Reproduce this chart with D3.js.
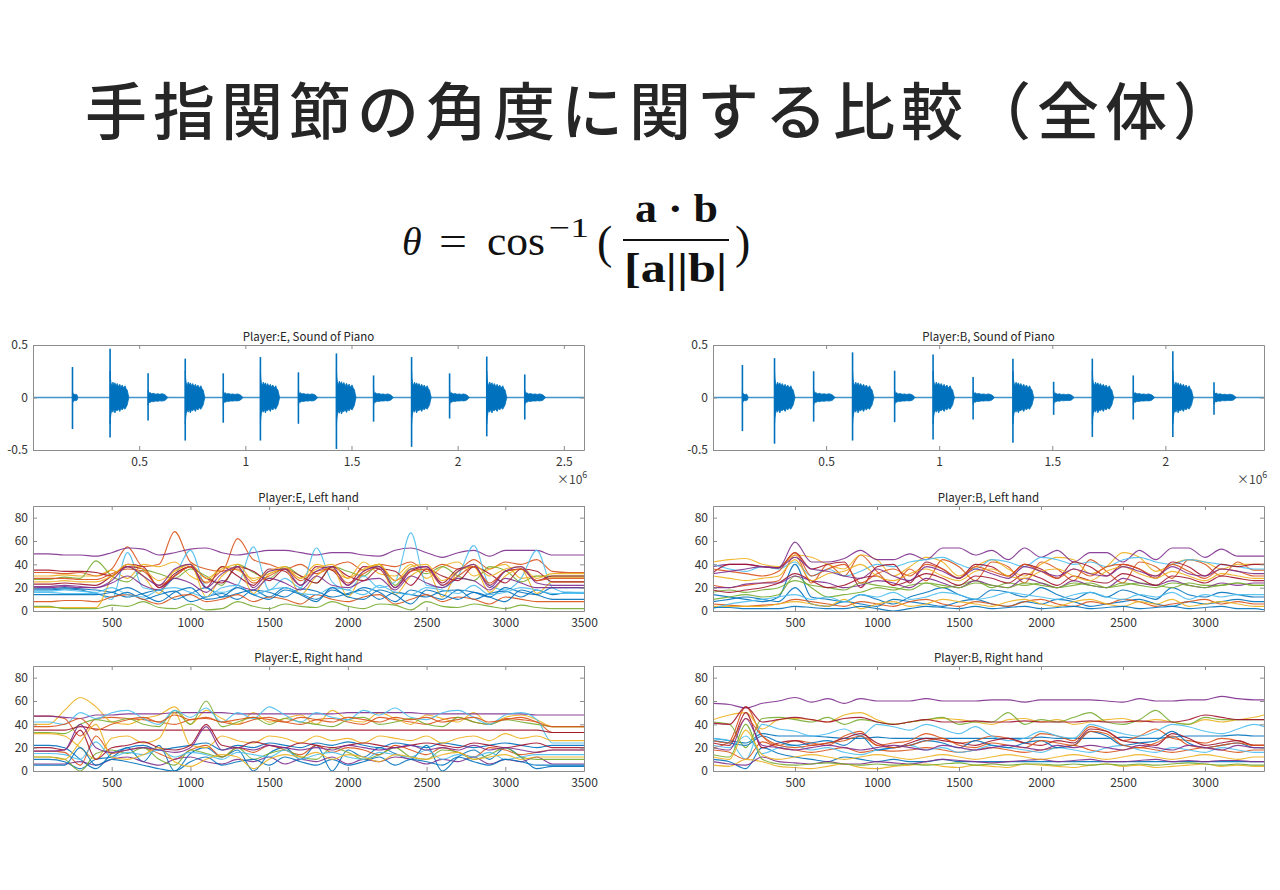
<!DOCTYPE html>
<html>
<head>
<meta charset="utf-8">
<script src="https://cdn.jsdelivr.net/npm/d3@7"></script>
<style>
body { margin: 0; background: #fff; }
svg { display: block; }
</style>
</head>
<body>
<svg id="chart" width="1280" height="890"></svg>
<script>
// ---- data ----
var pageTitle = "手指関節の角度に関する比較（全体）";
var panelTitles = [
	["Player:E, Sound of Piano", "Player:B, Sound of Piano"],
	["Player:E, Left hand", "Player:B, Left hand"],
	["Player:E, Right hand", "Player:B, Right hand"]
];
var lineColors = ["#0072BD", "#D95319", "#EDB120", "#7E2F8E", "#77AC30", "#4DBEEE", "#A2142F"];

// sound: x in units of 1e6 samples
var waveDomainE = [0, 2.595], waveDomainB = [0, 2.436];
var waveTicksE = [0.5, 1, 1.5, 2, 2.5], waveTicksB = [0.5, 1, 1.5, 2];
var waveYTicks = [-0.5, 0, 0.5];
// onset, spike top, spike bottom, body amplitude, body length
var notesE = [
	[0.186, 0.29, -0.30, 0.035, 0.025],
	[0.363, 0.465, -0.38, 0.14, 0.088],
	[0.542, 0.23, -0.22, 0.04, 0.092],
	[0.717, 0.37, -0.41, 0.14, 0.092],
	[0.896, 0.23, -0.24, 0.038, 0.092],
	[1.071, 0.385, -0.41, 0.14, 0.09],
	[1.250, 0.24, -0.25, 0.038, 0.09],
	[1.429, 0.42, -0.49, 0.15, 0.092],
	[1.604, 0.21, -0.23, 0.038, 0.092],
	[1.783, 0.385, -0.47, 0.14, 0.092],
	[1.962, 0.23, -0.20, 0.038, 0.092],
	[2.137, 0.39, -0.37, 0.14, 0.094],
	[2.316, 0.22, -0.21, 0.038, 0.098]
];
var notesB = [
	[0.130, 0.31, -0.32, 0.035, 0.025],
	[0.272, 0.375, -0.44, 0.14, 0.09],
	[0.445, 0.25, -0.23, 0.04, 0.094],
	[0.617, 0.43, -0.41, 0.14, 0.094],
	[0.803, 0.255, -0.235, 0.038, 0.09],
	[0.973, 0.41, -0.40, 0.14, 0.094],
	[1.150, 0.195, -0.21, 0.038, 0.094],
	[1.326, 0.37, -0.43, 0.14, 0.092],
	[1.506, 0.15, -0.165, 0.035, 0.09],
	[1.677, 0.37, -0.375, 0.14, 0.094],
	[1.858, 0.21, -0.21, 0.038, 0.094],
	[2.033, 0.44, -0.375, 0.14, 0.09],
	[2.215, 0.145, -0.165, 0.035, 0.098]
];
var bigBody = [[0,1.8,-1.8],[0.02,1.3,-1.4],[0.05,1.0,-1.1],[0.1,0.8,-0.85],[0.15,1.05,-1.0],[0.2,0.85,-0.8],
	[0.26,1.0,-1.05],[0.32,0.8,-0.85],[0.38,0.95,-0.9],[0.45,0.75,-0.8],[0.52,0.9,-0.95],[0.58,0.7,-0.75],
	[0.65,0.85,-0.85],[0.72,0.65,-0.7],[0.8,0.8,-0.8],[0.86,0.6,-0.65],[0.92,0.5,-0.5],[0.96,0.25,-0.25],[1,0.03,-0.03]];
var smallBody = [[0,1.8,-1.8],[0.04,1.0,-1.1],[0.1,1.2,-1.2],[0.18,0.9,-0.95],[0.28,1.0,-1.0],[0.38,0.8,-0.85],
	[0.5,0.9,-0.9],[0.6,0.75,-0.8],[0.7,0.9,-0.85],[0.8,0.8,-0.8],[0.88,0.6,-0.65],[0.95,0.3,-0.3],[1,0.03,-0.03]];

// joint angles: frame number vs degrees, values read every 100 frames
var framesE = d3.range(0, 3501, 100);
var framesB = d3.range(0, 3301, 100).concat([3360]);
var angleTicksE = [500, 1000, 1500, 2000, 2500, 3000, 3500];
var angleTicksB = [500, 1000, 1500, 2000, 2500, 3000];
var angleYTicks = [0, 20, 40, 60, 80];

var leftE = [
	[18,18,19,18,15,12, 16,10,14,17,8,12, 15,10,18,16,12,19, 17,12,15,18,10,16, 14,12,17,18,10,15, 17,12,18,14,16,15],
	[33,33,32,33,30,36, 55,38,40,68,42,36, 34,62,44,40,36,40, 32,38,42,35,40,38, 42,34,40,36,44,36, 42,40,44,34,33,33],
	[30,30,31,30,30,35, 28,40,38,42,30,25, 38,35,28,32,36,28, 40,35,28,42,32,30, 40,28,38,42,30,36, 40,28,30,29,29,29],
	[49,49,48,48,47,50, 54,53,48,50,53,54, 50,48,50,52,52,50, 48,50,50,48,47,52, 54,50,46,50,52,47, 52,52,52,48,48,48],
	[27,27,29,28,43,30, 25,35,32,28,36,30, 22,40,33,28,38,30, 24,38,34,30,40,22, 36,32,38,30,26,38, 35,25,30,30,30,30],
	[16,16,15,15,15,10, 50,20,18,30,52,20, 16,22,55,18,28,20, 54,25,18,30,20,25, 67,22,20,30,56,22, 18,28,52,20,16,16],
	[35,35,34,34,33,30, 40,38,20,32,38,20, 38,30,22,36,34,22, 38,35,22,38,36,20, 34,38,24,36,38,22, 34,36,26,30,30,30],
	[19,19,20,19,18,16, 12,15,18,10,15,20, 12,15,18,12,20,15, 10,18,14,20,16,8, 18,14,10,18,16,12, 20,16,14,20,20,20],
	[8,8,9,9,8,12, 14,10,6,12,14,8, 10,14,8,12,10,6, 14,10,8,12,14,6, 10,14,8,12,10,6, 12,10,8,8,8,8],
	[3,3,3,3,3,28, 38,30,15,35,40,12, 30,38,15,32,36,14, 30,38,12,34,40,14, 30,36,12,34,38,16, 30,36,15,25,25,25],
	[20,20,21,20,20,24, 30,22,18,28,24,16, 26,22,18,28,24,18, 30,22,20,26,28,18, 30,24,20,28,26,18, 28,24,20,20,20,20],
	[4,4,2,2,2,5, 4,8,3,2,6,1, 2,8,4,2,6,4, 3,8,4,2,6,5, 1,8,4,3,6,4, 2,5,3,2,2,2],
	[17,17,18,17,16,20, 14,12,18,20,16,12, 20,22,14,18,20,15, 14,20,18,14,22,16, 14,20,18,15,22,14, 16,20,18,15,15,15],
	[23,23,24,23,22,30, 38,36,20,30,38,28, 24,38,34,26,36,30, 24,38,30,26,36,34, 22,36,30,26,38,32, 24,36,34,25,25,25],
	[14,14,14,14,14,16, 20,14,8,16,20,10, 12,20,14,10,18,14, 8,20,12,10,18,14, 6,18,14,10,16,12, 8,18,14,10,10,10],
	[28,28,28,27,27,32, 36,34,22,30,38,24, 34,36,24,30,36,26, 34,36,24,32,38,26, 34,36,22,30,38,24, 34,36,26,28,28,28],
	[25,25,26,25,25,30, 40,36,26,34,40,28, 36,40,26,34,38,28, 36,40,28,36,40,26, 38,40,26,34,40,30, 36,38,28,32,32,32],
	[21,21,22,21,20,26, 38,30,22,36,40,20, 32,38,20,34,36,22, 34,38,22,34,38,20, 36,38,22,34,40,20, 34,38,24,22,22,22]
];
var rightE = [
	[22,22,20,10,2,15, 20,22,18,20,22,24, 18,22,20,24,22,20, 24,22,25,22,20,24, 22,20,24,22,20,22, 24,22,20,22,22,22],
	[47,47,45,30,45,46, 45,44,42,40,44,45, 42,40,44,46,42,40, 44,45,42,40,46,44, 42,40,44,46,42,40, 45,44,42,33,33,33],
	[40,40,52,63,55,42, 40,45,48,55,40,52, 45,40,50,42,45,48, 40,52,44,42,50,45, 40,48,45,42,50,40, 46,48,44,38,38,38],
	[47,47,46,45,48,48, 49,49,49,50,50,50, 50,49,49,49,49,49, 49,49,50,50,50,50, 50,49,49,49,49,49, 49,49,48,48,48,48],
	[33,33,32,40,44,42, 45,40,38,52,40,60, 38,42,46,40,45,42, 40,38,44,46,40,42, 45,40,38,46,42,40, 44,42,40,38,38,38],
	[42,42,40,50,45,50, 52,45,40,52,46,54, 42,50,45,55,48,42, 50,46,44,52,48,54, 46,44,50,52,46,40, 48,50,44,24,24,24],
	[35,35,35,38,36,35, 35,35,35,35,35,35, 35,35,35,35,35,35, 35,35,35,35,35,35, 35,35,35,35,35,35, 35,35,35,33,33,33],
	[10,10,8,2,10,12, 20,8,22,0,15,20, 12,18,0,15,20,10, 22,0,18,12,20,15, 10,22,0,12,18,10, 20,12,2,4,4,4],
	[17,17,16,5,30,15, 18,20,15,10,18,22, 12,20,16,22,18,14, 22,16,20,18,14,22, 18,14,20,16,12,20, 18,14,16,18,18,18],
	[32,32,30,20,10,28, 30,24,28,50,22,20, 30,26,24,30,28,24, 30,26,28,24,30,28, 26,30,24,28,30,26, 32,28,30,26,26,26],
	[6,6,6,8,5,10, 12,8,5,10,12,8, 6,10,8,12,6,10, 8,12,6,10,8,12, 10,6,10,8,12,6, 10,8,12,6,6,6],
	[12,12,10,0,15,18, 15,20,10,5,18,15, 12,20,10,15,18,12, 10,20,16,10,14,20, 12,10,18,16,10,14, 20,12,10,10,10,10],
	[15,15,14,10,25,12, 16,14,18,12,16,14, 10,16,14,12,18,10, 14,16,12,10,16,14, 12,18,10,14,12,16, 10,12,14,14,14,14],
	[20,20,18,35,10,20, 22,25,20,18,22,40, 22,20,25,22,20,24, 22,20,22,24,22,20, 22,24,22,20,24,22, 20,22,24,20,20,20],
	[5,5,5,20,5,10, 8,5,2,0,8,12, 5,8,10,5,12,8, 5,10,5,8,12,5, 10,8,5,12,8,5, 10,8,5,5,5,5],
	[38,38,40,45,35,40, 44,46,42,48,44,46, 42,44,46,44,42,46, 44,42,46,44,42,46, 44,46,42,44,46,42, 44,46,42,38,38,38],
	[12,12,10,25,40,12, 10,14,20,8,4,10, 14,12,2,10,14,12, 16,10,14,12,8,14, 12,10,14,16,10,12, 14,10,12,12,12,12],
	[17,17,18,40,20,16, 18,20,18,16,20,38, 18,20,18,22,20,18, 20,18,22,20,18,20, 22,18,20,18,22,18, 20,18,16,18,18,18]
];
var leftB = [
	[14,12,10,8,12,40, 12,10,8,14,10,6, 12,16,20,14,10,18, 16,12,20,14,10,16, 12,18,14,10,20,14, 12,16,14,12,12],
	[22,20,22,24,26,48, 24,40,30,48,34,22, 36,26,44,38,26,42, 38,24,42,36,26,44, 34,24,42,38,28,44, 40,30,42,35,35],
	[42,44,45,40,38,48, 46,40,36,48,44,30, 38,46,42,30,38,44, 36,30,40,46,44,32, 38,50,46,34,40,44, 42,36,40,40,40],
	[38,40,40,38,37,59, 42,42,45,52,44,44, 49,44,54,54,48,52, 44,54,46,52,42,50, 50,42,52,44,54,54, 46,53,47,47,47],
	[10,12,14,12,14,30, 20,12,14,16,20,18, 22,24,20,22,26,20, 24,22,24,20,22,24, 20,22,24,22,20,24, 22,22,24,22,22],
	[40,36,34,38,36,42, 30,36,30,34,40,38, 42,44,46,40,36,44, 42,38,46,44,40,42, 38,44,46,42,40,44, 42,40,38,36,36],
	[33,40,40,38,37,50, 36,40,42,20,38,40, 24,42,36,28,40,38, 30,40,36,28,42,38, 30,40,36,28,42,38, 30,40,38,40,40],
	[8,10,12,10,8,20, 6,4,8,6,4,10, 8,6,4,8,10,6, 4,8,6,10,8,4, 6,8,10,6,4,8, 6,8,10,8,8],
	[6,5,4,5,6,10, 8,6,4,8,6,4, 8,10,6,4,8,6, 4,8,10,6,4,8, 6,10,8,4,6,8, 10,6,8,6,6],
	[4,4,4,4,6,8, 6,4,10,2,6,8, 4,6,10,8,6,4, 8,10,6,4,8,10, 6,4,8,6,10,4, 6,8,6,4,4],
	[20,20,23,24,24,30, 26,24,20,22,26,24, 20,28,24,20,26,22, 20,28,24,20,26,22, 20,28,24,22,26,22, 20,24,22,24,24],
	[16,18,16,18,20,26, 22,20,18,24,22,20, 18,24,22,20,24,22, 20,24,22,20,24,22, 20,24,22,20,24,22, 20,22,24,22,22],
	[2,6,8,10,12,14, 10,12,8,14,12,16, 10,12,16,14,10,12, 16,14,12,10,14,16, 12,10,14,12,16,10, 14,12,14,14,14],
	[18,16,18,20,24,32, 26,20,22,28,30,22, 26,32,28,22,30,28, 24,32,28,22,30,26, 24,32,28,22,30,28, 24,30,28,26,26],
	[3,3,2,2,2,4, 3,2,2,4,2,0, 2,4,3,2,4,2, 3,4,2,3,4,2, 3,4,2,3,4,2, 3,4,2,2,1],
	[36,34,32,30,34,50, 30,36,40,24,32,36, 30,40,36,28,38,34, 30,40,34,28,36,30, 38,40,36,30,40,34, 28,36,34,30,30],
	[30,28,26,28,30,44, 26,32,34,40,30,26, 32,36,30,26,34,36, 30,28,34,36,30,26, 34,38,32,28,34,30, 26,32,30,28,28],
	[32,34,36,38,37,46, 36,34,30,28,36,30, 26,38,34,28,36,32, 28,38,34,30,36,32, 30,38,34,30,38,32, 30,36,34,32,32]
];
var rightB = [
	[28,26,24,32,30,30, 30,29,28,28,29,28, 28,28,28,28,28,28, 28,28,29,28,28,28, 28,29,28,28,29,30, 30,30,31,30,30],
	[20,25,55,30,22,26, 24,22,30,34,22,24, 26,32,28,24,26,30, 28,24,32,30,26,38, 34,26,30,36,28,26, 24,28,26,22,22],
	[44,48,50,36,44,45, 44,42,48,50,44,40, 42,44,45,44,42,40, 44,45,42,44,40,42, 44,45,42,44,42,40, 44,42,44,46,48],
	[58,57,54,58,60,63, 59,62,58,62,60,60, 60,62,60,60,60,61, 61,59,61,61,61,61, 60,59,62,60,60,61, 61,64,62,61,61],
	[42,40,20,45,46,44, 42,46,40,44,42,40, 42,44,46,40,42,42, 50,40,44,42,46,50, 42,40,44,52,42,40, 46,44,44,44,44],
	[28,26,10,40,36,34, 30,32,36,30,40,38, 35,40,36,32,38,30, 26,28,34,30,28,40, 36,32,30,34,40,38, 34,32,36,40,38],
	[41,40,55,42,44,46, 44,42,45,46,42,40, 42,44,42,42,43,42, 42,43,42,42,42,43, 42,42,43,42,42,44, 48,46,44,44,44],
	[10,8,2,20,15,12, 10,8,12,10,8,10, 8,8,10,8,8,8, 8,8,8,8,8,8, 8,8,8,8,8,8, 8,8,8,8,8],
	[18,16,10,25,20,18, 16,18,20,16,18,17, 18,20,18,16,18,20, 18,16,18,20,22,18, 16,18,20,18,16,18, 20,18,16,18,18],
	[5,4,10,8,4,3, 2,4,6,3,2,4, 5,6,4,3,5,4, 3,6,5,4,3,5, 6,4,5,3,4,5, 6,4,5,4,4],
	[8,6,5,12,8,7, 6,8,6,6,8,7, 6,8,10,9,8,7, 8,9,10,8,9,10, 8,8,9,10,8,9, 8,9,9,8,8],
	[14,12,40,10,6,5, 6,7,6,5,6,5, 6,5,6,7,5,6, 5,6,6,5,6,5, 6,5,6,5,6,7, 6,5,6,5,5],
	[22,20,30,15,20,22, 18,20,16,14,18,20, 22,18,20,16,18,22, 20,18,16,20,18,16, 20,22,18,16,20,18, 16,20,18,16,16],
	[24,22,50,20,24,26, 22,24,28,32,24,20, 24,28,26,24,22,26, 28,24,22,26,24,36, 34,26,24,22,32,28, 22,24,26,22,22],
	[26,24,22,30,25,22, 24,26,22,30,18,20, 22,26,24,20,26,22, 20,24,26,20,22,34, 30,22,24,26,34,24, 20,22,24,20,20],
	[26,24,45,30,22,20, 22,24,26,30,22,20, 22,26,28,22,20,24, 22,20,26,24,22,34, 32,22,20,24,30,22, 20,22,24,22,22],
	[12,10,35,14,10,12, 14,12,10,12,14,12, 10,12,14,12,10,12, 14,12,10,12,14,12, 10,12,14,12,10,12, 14,12,10,12,12],
	[20,18,45,22,20,18, 20,22,20,18,20,22, 20,18,22,20,18,20, 22,20,18,22,20,22, 20,18,22,20,18,22, 20,18,22,20,20]
];

// ---- layout ----
var colX = [33, 713], rowY = [345, 506, 666];
var W = 551, H = 105;
var uiFont = "'Noto Sans CJK JP','Noto Sans',sans-serif";

var svg = d3.select("#chart");
svg.append("rect").attr("width", 1280).attr("height", 890).attr("fill", "#fff");

svg.append("text")
	.attr("x", 85).attr("y", 135)
	.attr("font-family", "'Noto Sans CJK JP',sans-serif")
	.attr("font-size", 62).attr("font-weight", 500)
	.attr("letter-spacing", 6)
	.attr("fill", "#262626")
	.text(pageTitle);

// formula
var fg = svg.append("g").attr("font-family", "'Liberation Serif','DejaVu Serif',serif").attr("fill", "#111");
fg.append("text").attr("x", 402).attr("y", 255).attr("font-size", 40).attr("font-style", "italic").text("θ");
fg.append("text").attr("x", 439).attr("y", 255).attr("font-size", 42)
	.attr("textLength", 28).attr("lengthAdjust", "spacingAndGlyphs").text("=");
fg.append("text").attr("x", 487).attr("y", 255).attr("font-size", 42)
	.attr("textLength", 58).attr("lengthAdjust", "spacingAndGlyphs").text("cos");
fg.append("text").attr("x", 549).attr("y", 237).attr("font-size", 28)
	.attr("textLength", 40).attr("lengthAdjust", "spacingAndGlyphs").text("−1");
fg.append("text").attr("x", 597).attr("y", 258).attr("font-size", 46).text("(");
fg.append("text").attr("x", 635).attr("y", 222).attr("font-size", 40).attr("font-weight", "bold")
	.attr("textLength", 83).attr("lengthAdjust", "spacingAndGlyphs").text("a · b");
fg.append("line").attr("x1", 623).attr("x2", 729).attr("y1", 240).attr("y2", 240)
	.attr("stroke", "#111").attr("stroke-width", 2.2);
fg.append("text").attr("x", 624).attr("y", 282).attr("font-size", 42).attr("font-weight", "bold")
	.attr("textLength", 103).attr("lengthAdjust", "spacingAndGlyphs").text("[a||b|");
fg.append("text").attr("x", 735).attr("y", 258).attr("font-size", 46).text(")");

function makePanel(col, row, xDomain, yDomain) {
	var g = svg.append("g").attr("transform", "translate(" + colX[col] + "," + rowY[row] + ")");
	var x = d3.scaleLinear().domain(xDomain).range([0, W]);
	var y = d3.scaleLinear().domain(yDomain).range([H, 0]);
	g.append("text").attr("x", W / 2).attr("y", -4).attr("text-anchor", "middle")
		.attr("font-family", uiFont).attr("font-size", 11.5).attr("fill", "#222")
		.text(panelTitles[row][col]);
	return { g: g, x: x, y: y };
}

function drawAxes(p, xTicks, yTicks, fmtX) {
	var g = p.g;
	var axes = [
		g.append("g").attr("transform", "translate(0," + H + ")")
			.call(d3.axisBottom(p.x).tickValues(xTicks).tickSize(-4).tickSizeOuter(0).tickPadding(7).tickFormat(fmtX)),
		g.append("g")
			.call(d3.axisTop(p.x).tickValues(xTicks).tickSize(-4).tickSizeOuter(0).tickFormat("")),
		g.append("g")
			.call(d3.axisLeft(p.y).tickValues(yTicks).tickSize(-4).tickSizeOuter(0).tickPadding(5).tickFormat(function (d) { return String(d); })),
		g.append("g").attr("transform", "translate(" + W + ",0)")
			.call(d3.axisRight(p.y).tickValues(yTicks).tickSize(-4).tickSizeOuter(0).tickFormat(""))
	];
	axes.forEach(function (a) {
		a.attr("font-family", uiFont).attr("font-size", 12);
		a.selectAll("path, line").attr("stroke", "#8c8c8c");
		a.selectAll("text").attr("fill", "#333");
	});
}

function drawWave(p, notes) {
	var blue = lineColors[0];
	p.g.append("line")
		.attr("x1", p.x(p.x.domain()[0])).attr("x2", p.x(p.x.domain()[1]))
		.attr("y1", p.y(0)).attr("y2", p.y(0))
		.attr("stroke", blue).attr("stroke-width", 1.5).attr("opacity", 0.75);
	var area = d3.area()
		.x(function (d) { return p.x(d[0]); })
		.y0(function (d) { return p.y(d[2]); })
		.y1(function (d) { return p.y(d[1]); });
	notes.forEach(function (n) {
		var tpl = n[3] > 0.1 ? bigBody : smallBody;
		var pts = tpl.map(function (t) { return [n[0] + t[0] * n[4], t[1] * n[3], t[2] * n[3]]; });
		p.g.append("path").attr("d", area(pts)).attr("fill", blue).attr("stroke", blue).attr("stroke-width", 0.8);
		p.g.append("line")
			.attr("x1", p.x(n[0])).attr("x2", p.x(n[0]))
			.attr("y1", p.y(n[1])).attr("y2", p.y(n[2]))
			.attr("stroke", blue).attr("stroke-width", 1.6);
	});
	// x10^6 exponent label
	var t = p.g.append("text").attr("x", W - 27).attr("y", H + 34)
		.attr("font-family", uiFont).attr("font-size", 12).attr("fill", "#444");
	t.append("tspan").text("×10");
	t.append("tspan").attr("dy", -6).attr("font-size", 9).text("6");
}

function drawAngles(p, frames, series) {
	var line = d3.line()
		.x(function (d, i) { return p.x(frames[i]); })
		.y(function (d) { return p.y(d); })
		.curve(d3.curveMonotoneX);
	series.forEach(function (s, i) {
		p.g.append("path").attr("d", line(s))
			.attr("fill", "none")
			.attr("stroke", lineColors[i % lineColors.length])
			.attr("stroke-width", 1.1)
			.attr("opacity", 0.9);
	});
}

var fmtWave = function (d) { return String(d); };
var fmtAngle = function (d) { return String(d); };

var pE0 = makePanel(0, 0, waveDomainE, [-0.5, 0.5]);
drawWave(pE0, notesE);
drawAxes(pE0, waveTicksE, waveYTicks, fmtWave);

var pB0 = makePanel(1, 0, waveDomainB, [-0.5, 0.5]);
drawWave(pB0, notesB);
drawAxes(pB0, waveTicksB, waveYTicks, fmtWave);

var pE1 = makePanel(0, 1, [0, 3500], [0, 90]);
drawAngles(pE1, framesE, leftE);
drawAxes(pE1, angleTicksE, angleYTicks, fmtAngle);

var pB1 = makePanel(1, 1, [0, 3360], [0, 90]);
drawAngles(pB1, framesB, leftB);
drawAxes(pB1, angleTicksB, angleYTicks, fmtAngle);

var pE2 = makePanel(0, 2, [0, 3500], [0, 90]);
drawAngles(pE2, framesE, rightE);
drawAxes(pE2, angleTicksE, angleYTicks, fmtAngle);

var pB2 = makePanel(1, 2, [0, 3360], [0, 90]);
drawAngles(pB2, framesB, rightB);
drawAxes(pB2, angleTicksB, angleYTicks, fmtAngle);
</script>
</body>
</html>
